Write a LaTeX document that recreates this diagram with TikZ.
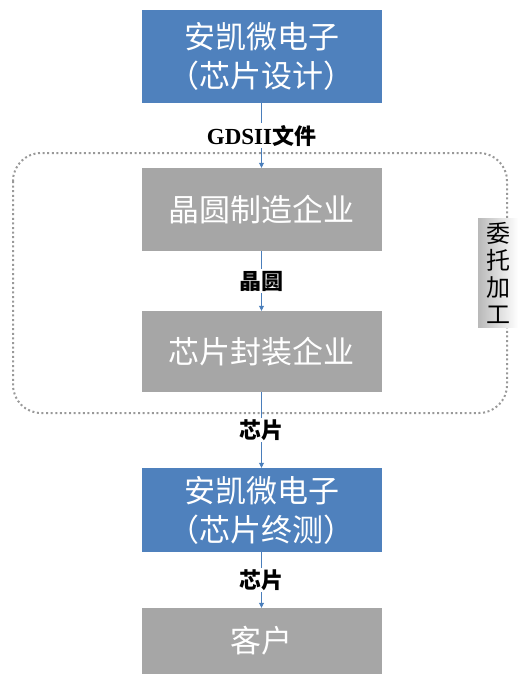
\documentclass[tikz,border=0pt]{standalone}
\usepackage{fontspec}
\newfontfamily\cjk{Noto Sans CJK SC}
\newfontfamily\tnr{Liberation Serif}
\usetikzlibrary{arrows.meta}
\definecolor{boxblue}{HTML}{4F81BD}
\definecolor{boxgray}{HTML}{A6A6A6}
\definecolor{lineblue}{HTML}{4A7EBB}
\definecolor{dotgray}{HTML}{999999}
\tikzset{
  base/.style={minimum width=240pt, inner sep=0pt, text=white, align=center,
    font=\cjk\fontsize{31}{39}\selectfont},
  bluebox/.style={base, fill=boxblue},
  graybox/.style={base, fill=boxgray},
  arr/.style={draw=lineblue, line width=0.8pt, -{Triangle[width=5pt,length=5pt]}},
  lbl/.style={fill=white, inner sep=1.5pt, text=black, font=\cjk\bfseries\fontsize{22}{24}\selectfont},
  frame/.style={draw=dotgray, line width=2pt, dash pattern=on 2pt off 2.6pt, rounded corners=28pt},
  tag/.style={minimum width=40pt, minimum height=109pt, inner sep=0pt, align=center,
    left color=gray!55, right color=white, font=\cjk\fontsize{24}{27}\selectfont}
}
\begin{document}
\begin{tikzpicture}[x=1pt,y=-1pt]
\useasboundingbox (0,0) rectangle (518,675);
\draw[frame] (13,153) rectangle (507,413);
\node[bluebox, minimum height=93pt] (b1) at (261.5,56.5) {安凯微电子\\（芯片设计）};
\node[graybox, minimum height=83pt] (b2) at (261.5,209.5) {晶圆制造企业};
\node[graybox, minimum height=81pt] (b3) at (261.5,351.5) {芯片封装企业};
\node[bluebox, minimum height=84pt] (b4) at (261.5,510) {安凯微电子\\（芯片终测）};
\node[graybox, minimum height=66pt] (b5) at (261.5,641) {客户};
\draw[arr] (b1) -- node[lbl] {{\tnr\bfseries\fontsize{23}{24}\selectfont GDSII}文件} (b2);
\draw[arr] (b2) -- node[lbl] {晶圆} (b3);
\draw[arr] (b3) -- node[lbl] {芯片} (b4);
\draw[arr] (b4) -- node[lbl] {芯片} (b5);
\node[tag] (t) at (498,272.5) {委\\托\\加\\工};
\end{tikzpicture}
\end{document}
